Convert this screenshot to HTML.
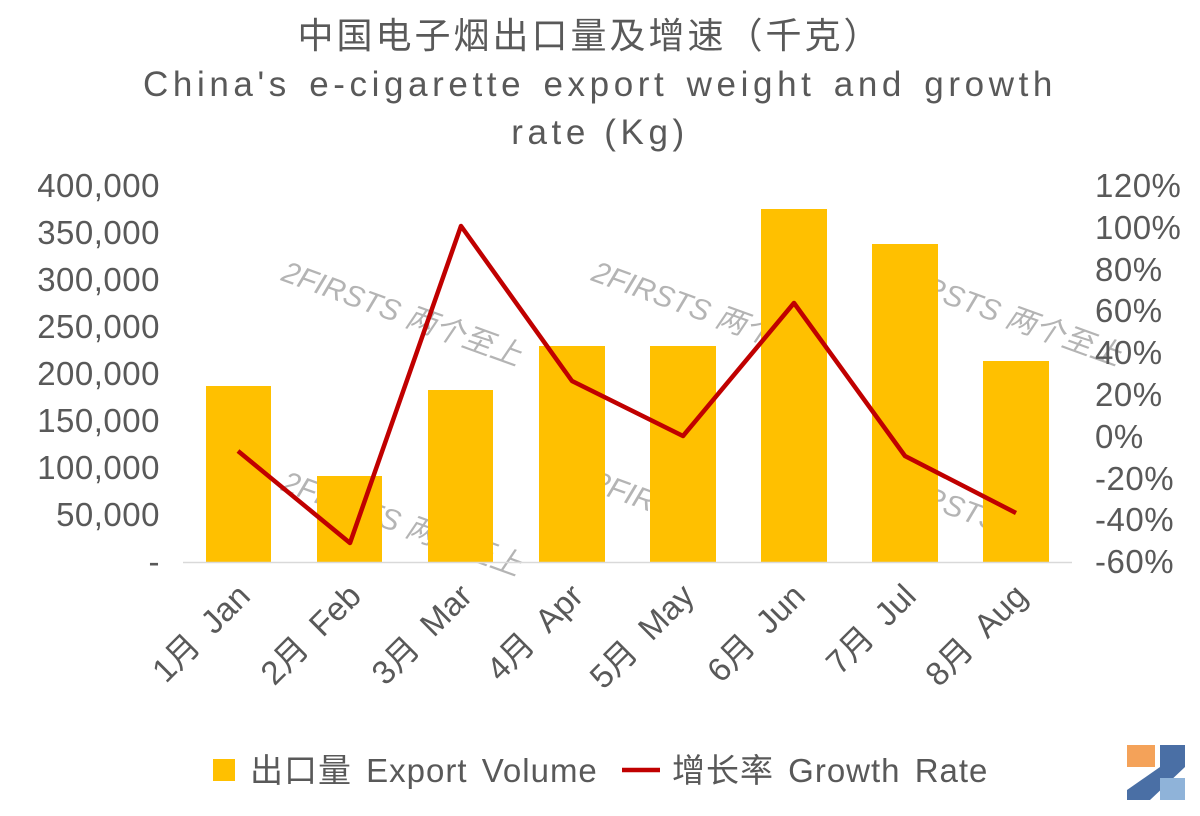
<!DOCTYPE html>
<html><head><meta charset="utf-8"><style>
body{margin:0;background:#fff;}
svg text{font-family:"Liberation Sans","Noto Sans CJK SC",sans-serif;fill:#595959;}
</style></head><body>
<svg width="1200" height="811" viewBox="0 0 1200 811" xmlns="http://www.w3.org/2000/svg">
<rect width="1200" height="811" fill="#fff"/>
<text x="590" y="48" font-size="36" text-anchor="middle" letter-spacing="3">中国电子烟出口量及增速（千克）</text>
<text x="600" y="96" font-size="35" text-anchor="middle" letter-spacing="4.6" word-spacing="4">China's e-cigarette export weight and growth</text>
<text x="600" y="144" font-size="35" text-anchor="middle" letter-spacing="4.6">rate (Kg)</text>
<g font-size="33" text-anchor="end" letter-spacing="0.5">
<text x="160" y="197">400,000</text><text x="160" y="244">350,000</text><text x="160" y="291">300,000</text>
<text x="160" y="338">250,000</text><text x="160" y="385">200,000</text><text x="160" y="432">150,000</text>
<text x="160" y="479">100,000</text><text x="160" y="526">50,000</text><text x="160" y="573">-</text>
</g>
<g font-size="33" text-anchor="start" letter-spacing="0.5">
<text x="1095" y="197">120%</text><text x="1095" y="239">100%</text><text x="1095" y="281">80%</text>
<text x="1095" y="322">60%</text><text x="1095" y="364">40%</text><text x="1095" y="406">20%</text>
<text x="1095" y="448">0%</text><text x="1095" y="490">-20%</text><text x="1095" y="531">-40%</text>
<text x="1095" y="573">-60%</text>
</g>
<g fill="#f2c4c4" opacity="0.45" font-size="30" font-style="italic">
<text x="280" y="280" transform="rotate(20 280 280)">2FIRSTS 两个至上</text>
<text x="590" y="280" transform="rotate(20 590 280)">2FIRSTS 两个至上</text>
<text x="880" y="280" transform="rotate(20 880 280)">2FIRSTS 两个至上</text>
<text x="280" y="490" transform="rotate(20 280 490)">2FIRSTS 两个至上</text>
<text x="590" y="490" transform="rotate(20 590 490)">2FIRSTS</text>
<text x="880" y="490" transform="rotate(20 880 490)">2FIRSTS</text>
</g>
<g fill="#FFC000">
<rect x="206" y="386" width="65" height="176"/>
<rect x="317" y="476" width="65" height="86"/>
<rect x="428" y="390" width="65" height="172"/>
<rect x="539" y="346" width="66" height="216"/>
<rect x="650" y="346" width="66" height="216"/>
<rect x="761" y="209" width="66" height="353"/>
<rect x="872" y="244" width="66" height="318"/>
<rect x="983" y="361" width="66" height="201"/>
</g>
<line x1="183" y1="562.5" x2="1072" y2="562.5" stroke="#d9d9d9" stroke-width="1.5"/>
<polyline fill="none" stroke="#C00000" stroke-width="4.5" stroke-linejoin="round" points="238,451 350,543 461,226 572,381 683,436 794,303 905,456 1016,513"/>
<g font-size="33" text-anchor="end" word-spacing="8">
<text transform="translate(252,598) rotate(-45)">1月 Jan</text>
<text transform="translate(363,598) rotate(-45)">2月 Feb</text>
<text transform="translate(474,598) rotate(-45)">3月 Mar</text>
<text transform="translate(585,598) rotate(-45)">4月 Apr</text>
<text transform="translate(696,598) rotate(-45)">5月 May</text>
<text transform="translate(807,598) rotate(-45)">6月 Jun</text>
<text transform="translate(918,598) rotate(-45)">7月 Jul</text>
<text transform="translate(1029,598) rotate(-45)">8月 Aug</text>
</g>
<rect x="213" y="759" width="22" height="22" fill="#FFC000"/>
<text x="250" y="782" font-size="33" letter-spacing="1" word-spacing="4">出口量 Export Volume</text>
<line x1="622" y1="770" x2="660" y2="770" stroke="#C00000" stroke-width="4.5"/>
<text x="672" y="782" font-size="33" letter-spacing="1" word-spacing="4">增长率 Growth Rate</text>
<g>
<rect x="1127" y="745" width="28" height="22" fill="#F4A259"/>
<polygon points="1160,745 1185,745 1185,767 1150,800 1127,800 1127,790 1160,767" fill="#4a6fa5"/>
<rect x="1160" y="778" width="25" height="22" fill="#8fb3d9"/>
</g>
</svg>
</body></html>
